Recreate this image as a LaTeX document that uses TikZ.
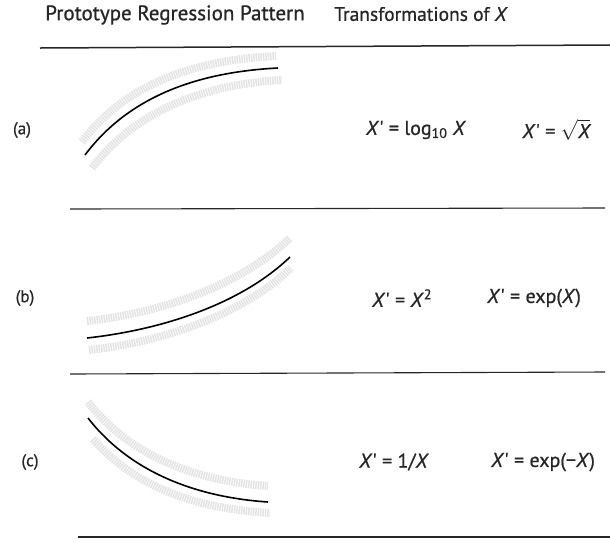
\documentclass[tikz,border=0pt]{standalone}
\usepackage{fontspec}
\setmainfont{PT Sans}
\usetikzlibrary{positioning}

\newcommand{\xp}{\textit{X}\textquotesingle}
\newcommand{\heavier}{\addfontfeatures{FakeBold=0.8}}

\tikzset{
  rule/.style={line width=1.1pt, black!85},
  fit curve/.style={line width=1.6pt, black},
  band/.style={line width=8pt, gray!22, dash pattern=on 1.5pt off 0.9pt},
  head/.style={font=\fontsize{21}{24}\selectfont\heavier, text=black!85},
  tag/.style={font=\fontsize{17}{20}\selectfont\heavier, text=black!85},
  formula/.style={font=\fontsize{20}{23}\selectfont\heavier, inner sep=1pt, text=black!85}
}

\begin{document}
\begin{tikzpicture}[x=1pt, y=-1pt]
  \useasboundingbox (0,0) rectangle (610,542);

  % header
  \node[head] (hpat) at (175,15) {Prototype Regression Pattern};
  \node[head, font=\fontsize{19.5}{22}\selectfont\heavier] (htra) at (421,14) {Transformations of \textit{X}};
  \coordinate (r0l) at (40,48);  \coordinate (r0r) at (610,45);
  \coordinate (r1l) at (70,209); \coordinate (r1r) at (605,208);
  \coordinate (r2l) at (70,374); \coordinate (r2r) at (605,372);
  \coordinate (r3l) at (78,537); \coordinate (r3r) at (610,537);
  \draw[rule, line width=1.5pt] (r0l) -- (r0r);
  \draw[rule] (r1l) -- (r1r);
  \draw[rule] (r2l) -- (r2r);
  \draw[rule] (r3l) -- (r3r);

  % row labels
  \node[tag] (la) at (22,130) {(a)};
  \node[tag] (lb) at (25,298) {(b)};
  \node[tag] (lc) at (30,462) {(c)};

  % (a) concave rising
  \draw[band] (82,142) .. controls (126,83) and (196,60) .. (276,56);
  \draw[band] (92,168) .. controls (136,110) and (206,84) .. (282,80);
  \draw[fit curve] (85,155) .. controls (130,95) and (200,72) .. (278,68);

  % (b) convex rising
  \draw[band] (87,321) .. controls (160,313) and (240,286) .. (290,238);
  \draw[band] (89,350) .. controls (162,342) and (242,315) .. (291,268);
  \draw[fit curve] (87,338) .. controls (160,330) and (240,305) .. (290,257);

  % (c) convex falling
  \draw[band] (88,402) .. controls (122,446) and (180,480) .. (268,486);
  \draw[band] (93,439) .. controls (130,481) and (185,508) .. (270,513);
  \draw[fit curve] (88,418) .. controls (122,462) and (180,496) .. (268,502);

  % transformations
  \node[formula] (fa1) at (416,130) {\xp{} = log\textsubscript{10} \textit{X}};
  \node[formula] (fa2) at (556,130) {\xp{} = $\sqrt{\textit{X}}$};
  \node[formula] (fb1) at (402,298) {\xp{} = \textit{X}\textsuperscript{2}};
  \node[formula] (fb2) at (534,298) {\xp{} = exp(\textit{X})};
  \node[formula] (fc1) at (394,462) {\xp{} = 1/\textit{X}};
  \node[formula] (fc2) at (543,462) {\xp{} = exp(−\textit{X})};
\end{tikzpicture}
\end{document}
